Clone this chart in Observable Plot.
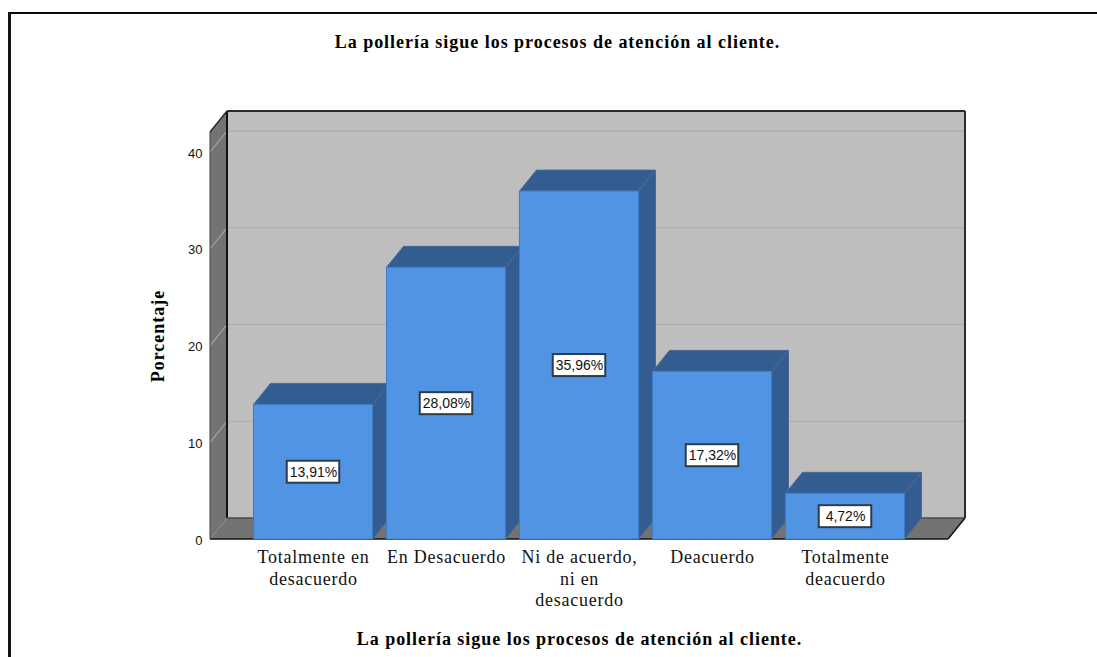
<!DOCTYPE html>
<html lang="es">
<head>
<meta charset="utf-8">
<script src="https://cdn.jsdelivr.net/npm/d3@7"></script>
<script src="https://cdn.jsdelivr.net/npm/@observablehq/plot@0.6"></script>
<style>
  html, body { margin: 0; padding: 0; background: #fff; }
  #chart { position: relative; width: 1097px; height: 657px; overflow: hidden; }
  #chart svg { display: block; position: absolute; left: 0; top: 0; }
  #frame { position: absolute; left: 8px; top: 12px; right: 0; bottom: 0;
           border-left: 3px solid #141414; border-top: 2px solid #0a0a0a; }
  [aria-label="x-axis tick label"] { letter-spacing: 0.75px; }
</style>
</head>
<body>
<div id="chart"><div id="frame"></div></div>
<script>
const titleText = "La pollería sigue los procesos de atención al cliente.";
const yAxisTitle = "Porcentaje";
const categories = [
  "Totalmente en\ndesacuerdo",
  "En Desacuerdo",
  "Ni de acuerdo,\nni en\ndesacuerdo",
  "Deacuerdo",
  "Totalmente\ndeacuerdo"
];
const percentages = [13.91, 28.08, 35.96, 17.32, 4.72];
const yTicks = [0, 10, 20, 30, 40];
const yMax = 42.07;

const rows = categories.map((category, i) => ({category, value: percentages[i]}));
const formatPercent = (v) => v.toFixed(2).replace(".", ",") + "%";

// Oblique projection of the chart box
const depthX = 17;
const depthY = -21;
const SERIF = "'Liberation Serif', serif";
const SANS = "'Liberation Sans', sans-serif";

const poly = (g, points, fill, stroke, strokeWidth = 1) =>
  g.append("polygon")
    .attr("points", points.map((p) => p.join(",")).join(" "))
    .attr("fill", fill)
    .attr("stroke", stroke)
    .attr("stroke-width", strokeWidth);

const seg = (g, a, b, stroke, strokeWidth) =>
  g.append("line")
    .attr("x1", a[0]).attr("y1", a[1])
    .attr("x2", b[0]).attr("y2", b[1])
    .attr("stroke", stroke)
    .attr("stroke-width", strokeWidth);

// Walls, floor and gridlines of the box, placed from the frame and the y scale
function chartBox(index, {y}, values, {marginLeft, marginRight, marginTop, marginBottom, width, height}) {
  const g = d3.create("svg:g");
  const x0 = marginLeft, x1 = width - marginRight;
  const y0 = height - marginBottom, y1 = marginTop;
  const bx0 = x0 + depthX, bx1 = x1 + depthX;
  const by0 = y0 + depthY, by1 = y1 + depthY;

  poly(g, [[bx0, by1], [bx1, by1], [bx1, by0], [bx0, by0]], "#bebebe", "none");
  poly(g, [[x0, y1], [bx0, by1], [bx0, by0], [x0, y0]], "#737373", "none");
  poly(g, [[x0, y0], [bx0, by0], [bx1, by0], [x1, y0]], "#737373", "none");

  for (const t of yTicks.slice(1)) {
    seg(g, [bx0, y(t) + depthY], [bx1, y(t) + depthY], "#ababab", 1.2);
    seg(g, [x0, y(t)], [bx0, y(t) + depthY], "#a3a3a3", 1.2);
  }

  seg(g, [bx0, by1], [bx1, by1], "#2b2b2b", 2);
  seg(g, [bx1, by1], [bx1, by0], "#2b2b2b", 2);
  seg(g, [bx0, by1], [bx0, by0], "#111", 2);
  seg(g, [x0, y1], [bx0, by1], "#2b2b2b", 1.5);
  seg(g, [x0, y1], [x0, y0], "#444", 1);
  seg(g, [bx0, by0], [bx1, by0], "#4a4a4a", 1.5);
  seg(g, [x1, y0], [bx1, by0], "#111", 1.5);
  seg(g, [x0, y0], [x1, y0], "#111", 1.5);
  return g.node();
}

// Top and side faces of each bar, stacked from left to right
function barDepth(index, {x, y}) {
  const g = d3.create("svg:g");
  const w = x.bandwidth();
  const fill = "#335c91", edge = "#4a6a93";
  for (const {category, value} of rows) {
    const l = x(category), r = l + w, t = y(value), b = y(0);
    poly(g, [[r, t], [r + depthX, t + depthY], [r + depthX, b + depthY], [r, b]], fill, edge);
    poly(g, [[l, t], [l + depthX, t + depthY], [r + depthX, t + depthY], [r, t]], fill, edge);
  }
  return g.node();
}

// White boxes behind the value labels
function labelBoxes(index, {x, y}) {
  const g = d3.create("svg:g");
  const w = x.bandwidth(), boxW = 52.5, boxH = 22;
  for (const {category, value} of rows) {
    g.append("rect")
      .attr("x", x(category) + w / 2 - boxW / 2)
      .attr("y", y(value / 2) - boxH / 2)
      .attr("width", boxW)
      .attr("height", boxH)
      .attr("fill", "#fff")
      .attr("stroke", "#2f3b4a")
      .attr("stroke-width", 2);
  }
  return g.node();
}

const chart = Plot.plot({
  width: 1097,
  height: 657,
  marginLeft: 210,
  marginRight: 149,
  marginTop: 132,
  marginBottom: 118,
  style: {background: "transparent", overflow: "visible"},
  x: {domain: categories, paddingInner: 0.105, paddingOuter: 0.327, round: false, label: null},
  y: {domain: [0, yMax], label: null},
  marks: [
    chartBox,
    barDepth,
    Plot.barY(rows, {x: "category", y: "value", fill: "#5294e4", stroke: "#3f7cc4", strokeWidth: 1}),
    labelBoxes,
    Plot.text(rows, {
      x: "category",
      y: (d) => d.value / 2,
      text: (d) => formatPercent(d.value),
      fontFamily: SANS,
      fontSize: 14,
      fill: "#111"
    }),
    Plot.axisY({
      ticks: yTicks,
      tickSize: 0,
      tickPadding: 8,
      dy: 1,
      label: null,
      fontFamily: SANS,
      fontSize: 13,
      fill: "#111"
    }),
    Plot.axisX({
      tickSize: 0,
      tickPadding: 9,
      label: null,
      lineHeight: 1.17,
      fontFamily: SERIF,
      fontSize: 18,
      fill: "#111"
    }),
    Plot.text([yAxisTitle], {
      frameAnchor: "left",
      textAnchor: "middle",
      rotate: -90,
      dx: -52,
      fontFamily: SERIF,
      fontWeight: "bold",
      fontSize: 18,
      fill: "#000"
    }),
    Plot.text([titleText], {
      frameAnchor: "top",
      dx: -22,
      dy: -97,
      fontFamily: SERIF,
      fontWeight: "bold",
      fontSize: 18,
      fill: "#000"
    }),
    Plot.text([titleText], {
      frameAnchor: "bottom",
      dy: 105,
      fontFamily: SERIF,
      fontWeight: "bold",
      fontSize: 18,
      fill: "#000"
    })
  ]
});

// The bold serif headings are set slightly wider than the font's default spacing
for (const node of chart.querySelectorAll("text")) {
  if (node.textContent === titleText) node.style.letterSpacing = "0.97px";
  if (node.textContent === yAxisTitle) node.style.letterSpacing = "1px";
}
document.getElementById("chart").prepend(chart);
</script>
</body>
</html>
